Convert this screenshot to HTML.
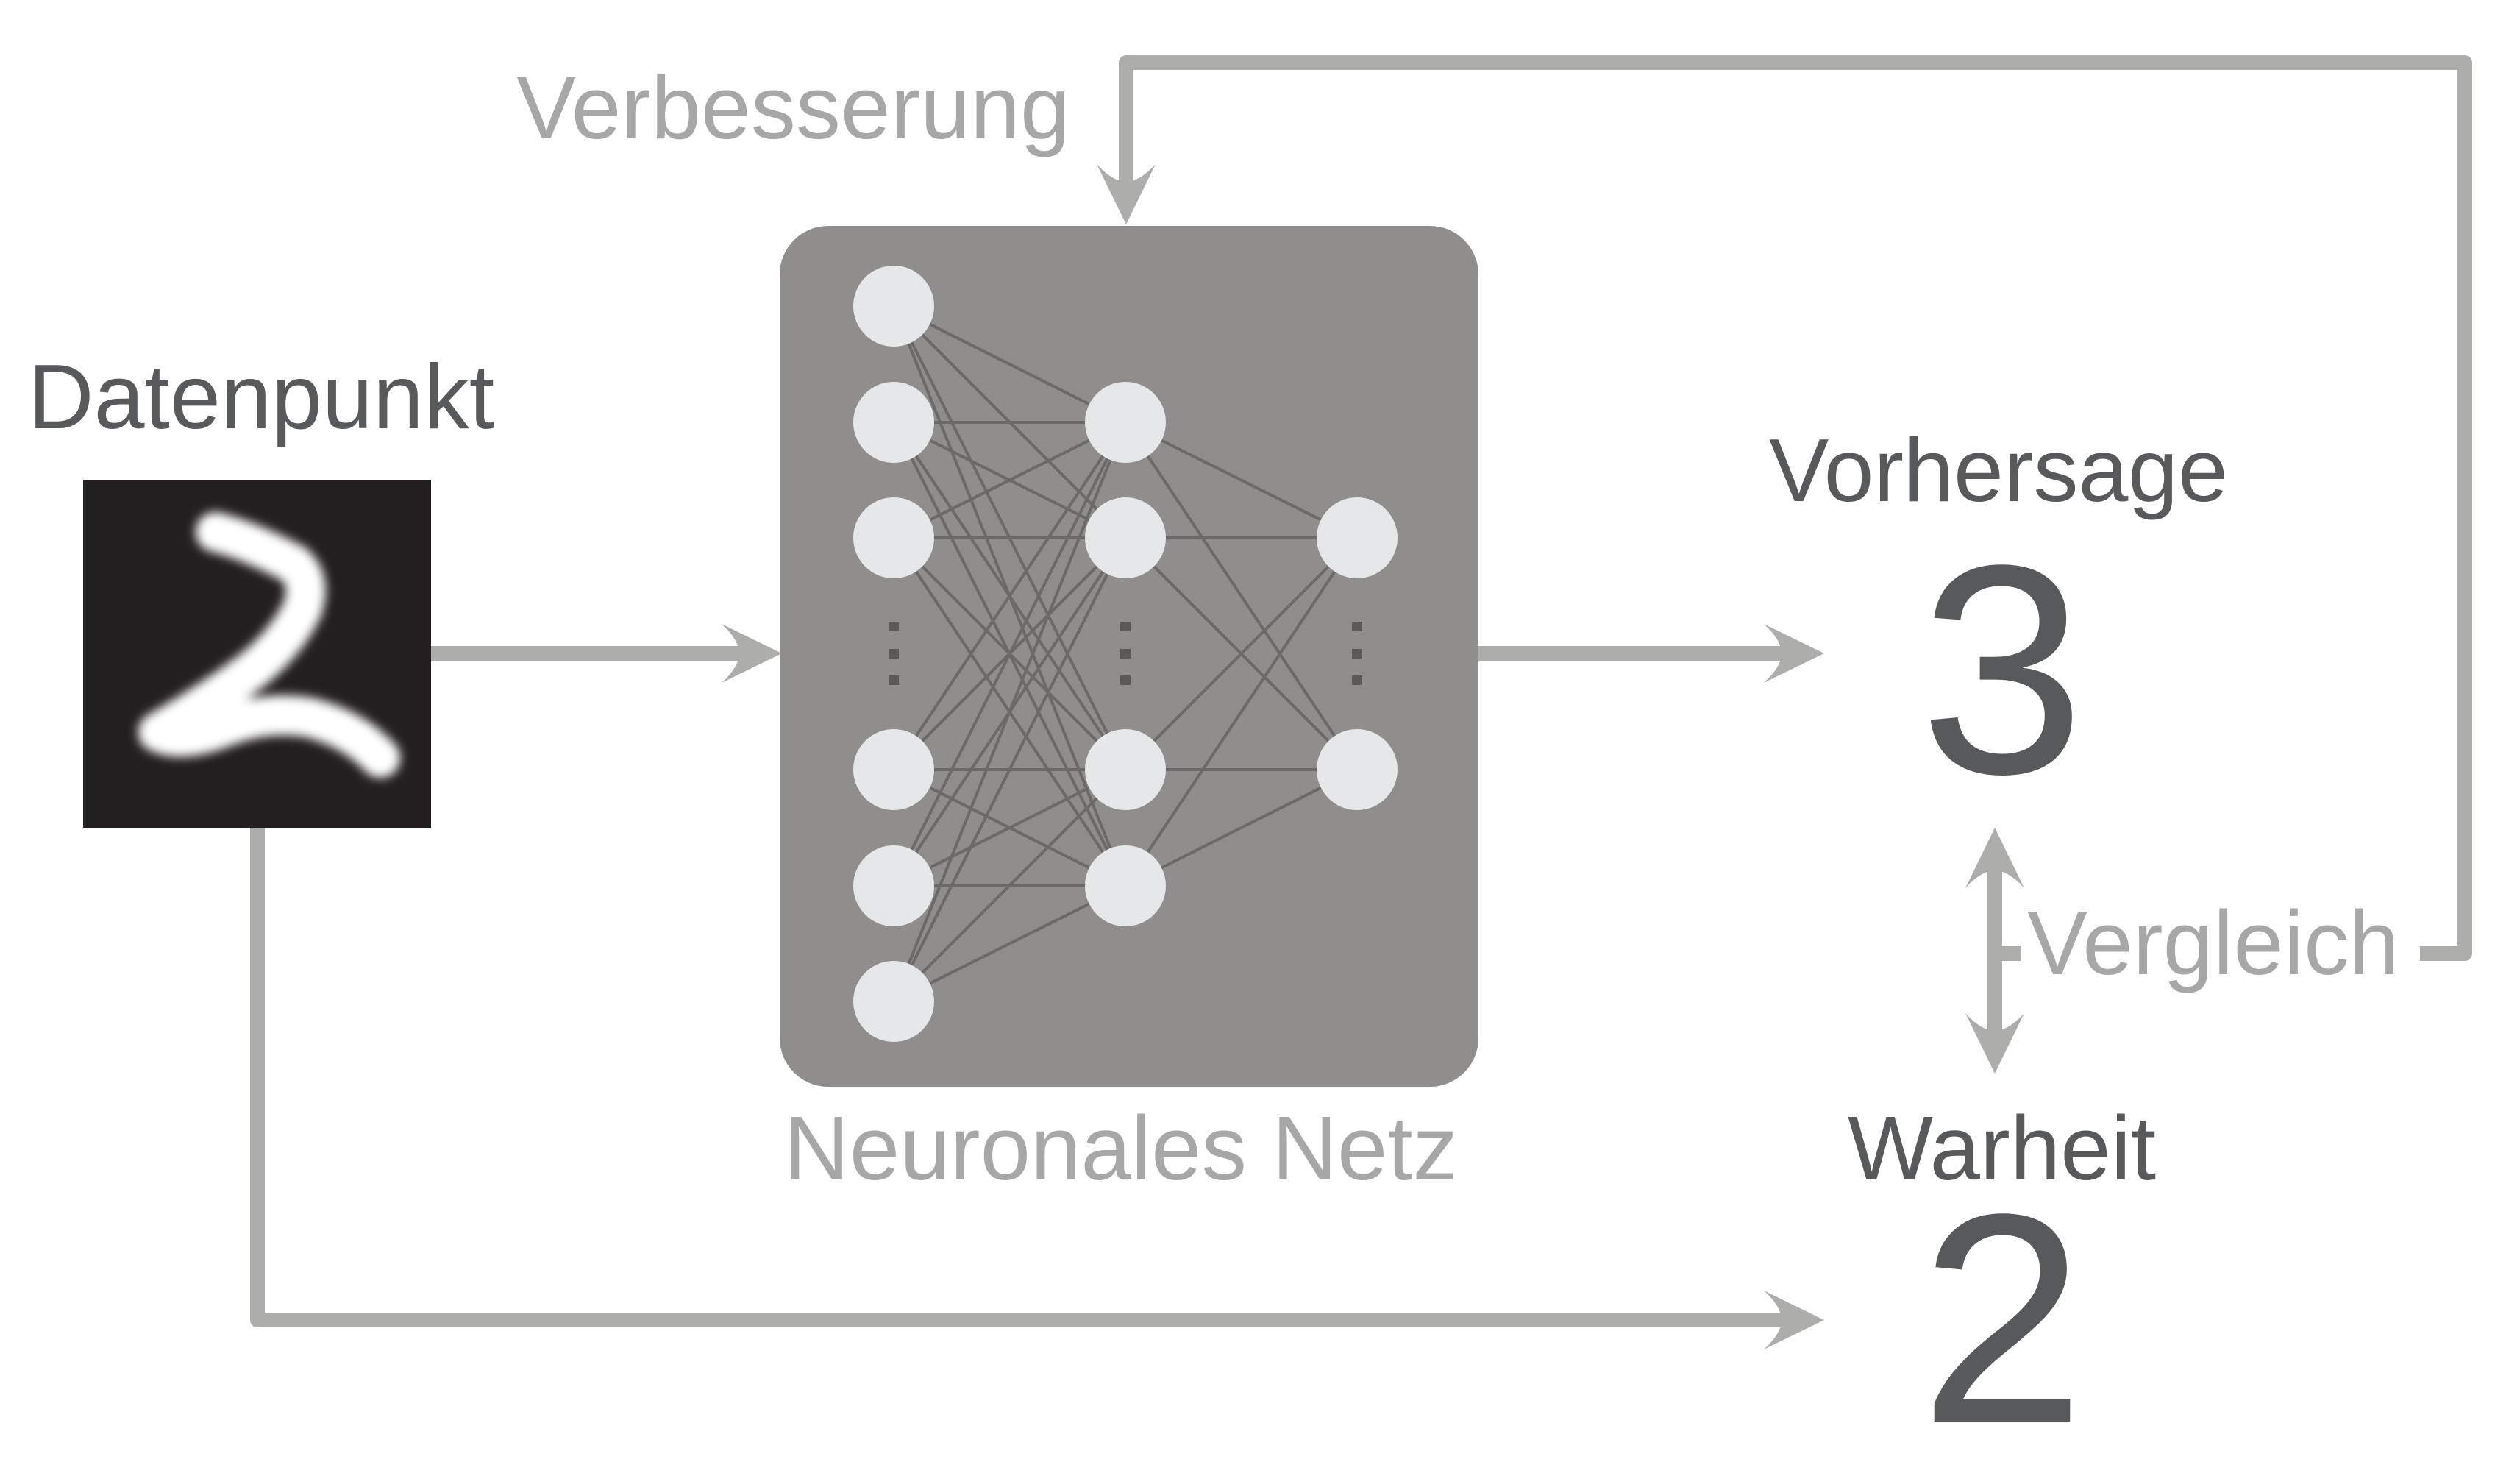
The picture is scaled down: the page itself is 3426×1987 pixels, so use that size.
<!DOCTYPE html>
<html><head><meta charset="utf-8"><style>
html,body{margin:0;padding:0;background:#fff;}
svg{display:block;}
text{font-family:"Liberation Sans",Arial,sans-serif;}
</style></head><body>
<svg width="3426" height="1987" viewBox="0 0 3426 1987" xmlns="http://www.w3.org/2000/svg">
<defs>
<filter id="bl" x="-20%" y="-20%" width="140%" height="140%"><feGaussianBlur stdDeviation="7"/></filter>
<path id="ah" d="M0 0 L-82 -40 Q-58 -18 -58 0 Q-58 18 -82 40 Z" fill="#adadac"/>
</defs>
<rect x="0" y="0" width="3426" height="1987" fill="#fff"/>

<g stroke="#adadac" stroke-width="20" fill="none" stroke-linejoin="round">
<line x1="586" y1="888" x2="1010" y2="888"/>
<line x1="2010" y1="888" x2="2425" y2="888"/>
<path d="M350 1125 V1794 H2425"/>
<path d="M3290 1296 H3351 V85 H1531 V250"/>
<line x1="2712" y1="1180" x2="2712" y2="1405"/>
<line x1="2712" y1="1296" x2="2748" y2="1296"/>
</g>
<use href="#ah" transform="translate(1063,888)"/>
<use href="#ah" transform="translate(2480,888)"/>
<use href="#ah" transform="translate(2480,1794)"/>
<use href="#ah" transform="translate(1531,305) rotate(90)"/>
<use href="#ah" transform="translate(2712,1125) rotate(-90)"/>
<use href="#ah" transform="translate(2712,1459) rotate(90)"/>

<rect x="113" y="652" width="473" height="473" fill="#231f20"/>
<path d="M293 723 Q340 735 400 767 Q425 790 410 830 Q390 870 350 905 Q300 945 215 995 Q245 1010 300 990 Q360 965 420 975 Q480 990 517 1030" fill="none" stroke="#fff" stroke-width="54" stroke-linecap="round" stroke-linejoin="round" filter="url(#bl)"/>

<rect x="1060" y="307" width="950" height="1170" rx="66" fill="#8f8e8c"/>
<g stroke="#6b6a68" stroke-width="4">
<line x1="1215" y1="416" x2="1530" y2="574"/><line x1="1215" y1="416" x2="1530" y2="731"/><line x1="1215" y1="416" x2="1530" y2="1046"/><line x1="1215" y1="416" x2="1530" y2="1204"/>
<line x1="1215" y1="574" x2="1530" y2="574"/><line x1="1215" y1="574" x2="1530" y2="731"/><line x1="1215" y1="574" x2="1530" y2="1046"/><line x1="1215" y1="574" x2="1530" y2="1204"/>
<line x1="1215" y1="731" x2="1530" y2="574"/><line x1="1215" y1="731" x2="1530" y2="731"/><line x1="1215" y1="731" x2="1530" y2="1046"/><line x1="1215" y1="731" x2="1530" y2="1204"/>
<line x1="1215" y1="1046" x2="1530" y2="574"/><line x1="1215" y1="1046" x2="1530" y2="731"/><line x1="1215" y1="1046" x2="1530" y2="1046"/><line x1="1215" y1="1046" x2="1530" y2="1204"/>
<line x1="1215" y1="1204" x2="1530" y2="574"/><line x1="1215" y1="1204" x2="1530" y2="731"/><line x1="1215" y1="1204" x2="1530" y2="1046"/><line x1="1215" y1="1204" x2="1530" y2="1204"/>
<line x1="1215" y1="1361" x2="1530" y2="574"/><line x1="1215" y1="1361" x2="1530" y2="731"/><line x1="1215" y1="1361" x2="1530" y2="1046"/><line x1="1215" y1="1361" x2="1530" y2="1204"/>
<line x1="1530" y1="574" x2="1845" y2="731"/><line x1="1530" y1="574" x2="1845" y2="1046"/>
<line x1="1530" y1="731" x2="1845" y2="731"/><line x1="1530" y1="731" x2="1845" y2="1046"/>
<line x1="1530" y1="1046" x2="1845" y2="731"/><line x1="1530" y1="1046" x2="1845" y2="1046"/>
<line x1="1530" y1="1204" x2="1845" y2="731"/><line x1="1530" y1="1204" x2="1845" y2="1046"/>
</g>
<g fill="#e6e7e8">
<circle cx="1215" cy="416" r="55"/><circle cx="1215" cy="574" r="55"/><circle cx="1215" cy="731" r="55"/>
<circle cx="1215" cy="1046" r="55"/><circle cx="1215" cy="1204" r="55"/><circle cx="1215" cy="1361" r="55"/>
<circle cx="1530" cy="574" r="55"/><circle cx="1530" cy="731" r="55"/><circle cx="1530" cy="1046" r="55"/><circle cx="1530" cy="1204" r="55"/>
<circle cx="1845" cy="731" r="55"/><circle cx="1845" cy="1046" r="55"/>
</g>
<g fill="#5a5958">
<rect x="1208" y="845" width="14" height="13"/><rect x="1208" y="882" width="14" height="13"/><rect x="1208" y="918" width="14" height="13"/>
<rect x="1523" y="845" width="14" height="13"/><rect x="1523" y="882" width="14" height="13"/><rect x="1523" y="918" width="14" height="13"/>
<rect x="1838" y="845" width="14" height="13"/><rect x="1838" y="882" width="14" height="13"/><rect x="1838" y="918" width="14" height="13"/>
</g>

<text x="38" y="582" font-size="124" fill="#58595b">Datenpunkt</text>
<text x="702" y="188" font-size="122" fill="#a7a7a7">Verbesserung</text>
<text x="1066" y="1603" font-size="123" fill="#a7a7a7">Neuronales Netz</text>
<text x="2405" y="681" font-size="122" fill="#58595b">Vorhersage</text>
<text x="2722" y="1050" font-size="405" fill="#58595b" text-anchor="middle">3</text>
<text x="2756" y="1324" font-size="123" fill="#a7a7a7">Vergleich</text>
<text x="2512" y="1603" font-size="123" fill="#58595b">Warheit</text>
<text x="2722" y="1932" font-size="405" fill="#58595b" text-anchor="middle">2</text>
</svg>
</body></html>
